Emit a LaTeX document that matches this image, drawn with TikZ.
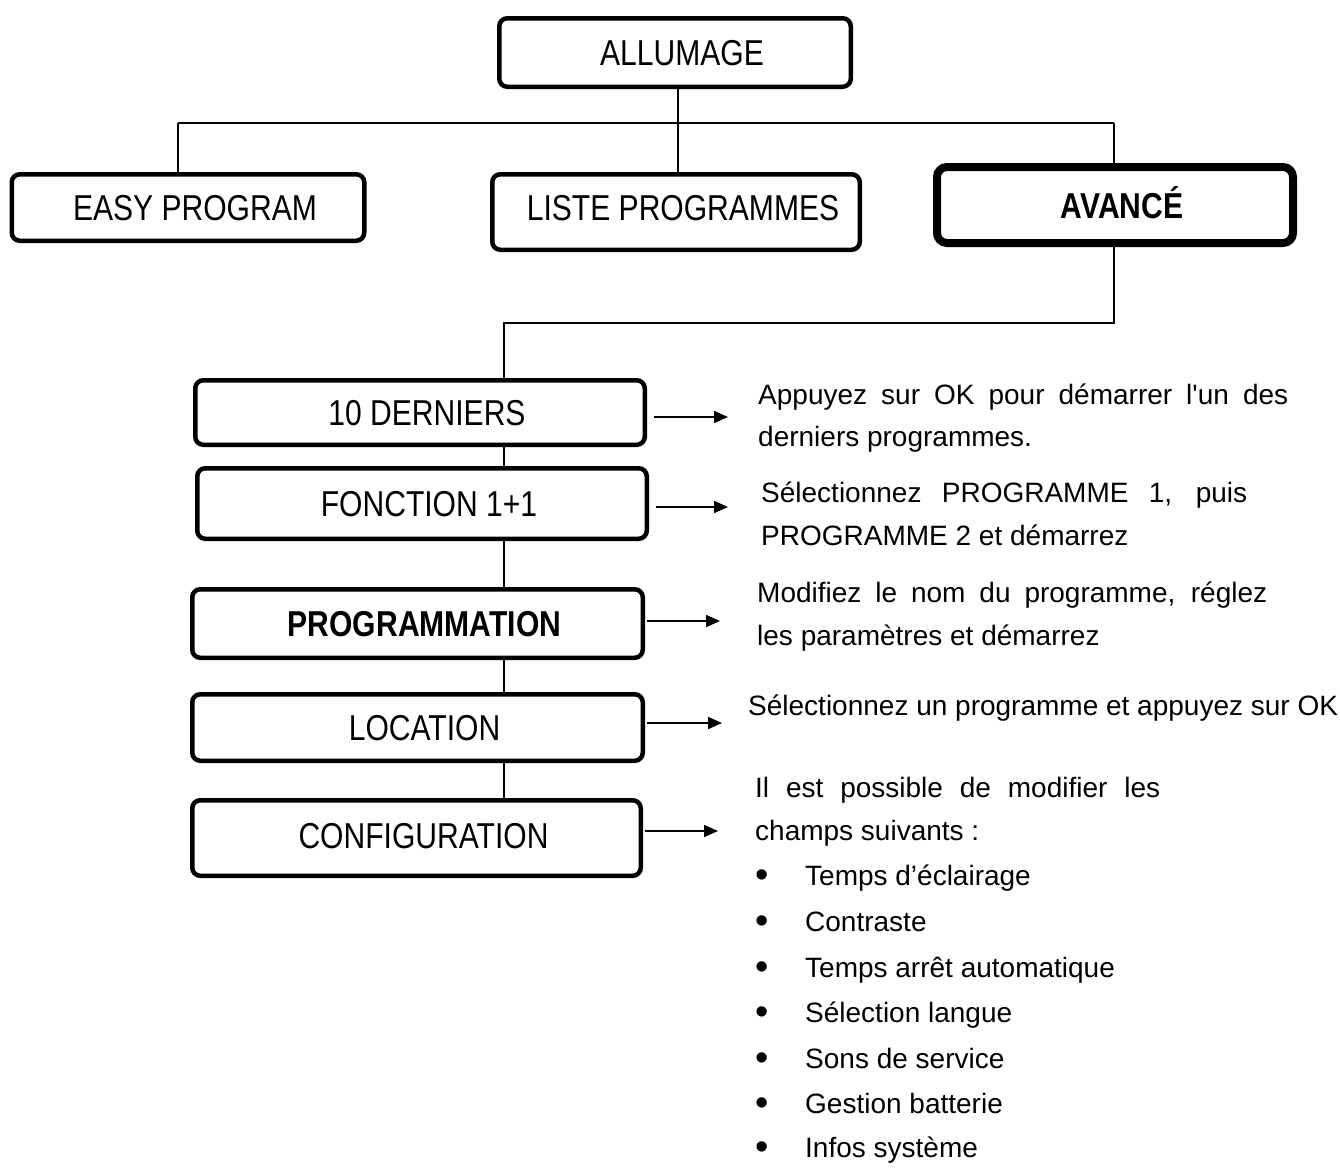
\documentclass[tikz,border=0pt]{standalone}
\usepackage{fontspec}
\setmainfont{Liberation Sans}
\newfontfamily\boxfont[FakeStretch=0.835]{Liberation Sans}
\newfontfamily\bodyfont[Ligatures=TeXOff]{Liberation Sans}
\usetikzlibrary{arrows.meta}
\newcommand{\bul}{\makebox[50pt][l]{\raisebox{-2.5pt}{\fontsize{38}{38}\selectfont•}}}
\begin{document}
\begin{tikzpicture}[x=1pt,y=-1pt,
  box/.style={draw=black, line width=4.5pt, rounded corners=8pt, inner sep=0pt,
    text height=26pt, text depth=0pt, align=center,
    execute at begin node={\hspace*{14pt}},
    font=\boxfont\fontsize{36}{40}\selectfont},
  boldbox/.style={box, font=\boxfont\fontsize{36}{40}\selectfont\bfseries},
  link/.style={draw=black, line width=1.4pt},
  arr/.style={draw=black, line width=1.6pt, -{Triangle[length=14pt,width=12pt]}},
  desc/.style={anchor=base west, inner sep=0pt, font=\bodyfont\fontsize{28}{34}\selectfont}]
\useasboundingbox (0,0) rectangle (1340,1167);

% top level
\node[box, minimum width=351.5pt, minimum height=68.5pt] (all) at (675,52.5) {ALLUMAGE};
\node[box, minimum width=352.5pt, minimum height=66.5pt] (easy) at (188,207.5) {EASY PROGRAM};
\node[box, minimum width=367.5pt, minimum height=75.5pt, text depth=10pt] (liste) at (676,212) {LISTE PROGRAMMES};
\node[boldbox, line width=8pt, rounded corners=10pt, minimum width=356pt, minimum height=76pt] (avance) at (1115,205) {AVANCÉ};

% second level
\node[box, minimum width=449.5pt, minimum height=64.5pt] (b1) at (420,412.5) {10 DERNIERS};
\node[box, minimum width=449.5pt, minimum height=70.5pt] (b2) at (422,503.5) {FONCTION 1+1};
\node[boldbox, minimum width=450.5pt, minimum height=68.5pt] (b3) at (417.5,623.5) {PROGRAMMATION};
\node[box, minimum width=450.5pt, minimum height=66.5pt] (b4) at (417.5,727.5) {LOCATION};
\node[box, minimum width=448.5pt, minimum height=75.5pt, text depth=6pt] (b5) at (416.5,838) {CONFIGURATION};

% connectors top
\coordinate (j0) at (678,123);
\coordinate (jl) at (178,123);
\coordinate (jr) at (1114,123);
\draw[link] (jl) -- (jr);
\draw[link] (j0 |- all.south) -- (j0 |- liste.north);
\draw[link] (jl) -- (jl |- easy.north);
\draw[link] (jr) -- (jr |- avance.north);

% connector to second level
\coordinate (k1) at (1114,323);
\coordinate (k2) at (504,323);
\draw[link] (k1 |- avance.south) -- (k1) -- (k2) -- (k2 |- b1.north);
\draw[link] (k2 |- b1.south) -- (k2 |- b2.north);
\draw[link] (k2 |- b2.south) -- (k2 |- b3.north);
\draw[link] (k2 |- b3.south) -- (k2 |- b4.north);
\draw[link] (k2 |- b4.south) -- (k2 |- b5.north);

% arrows
\coordinate (t1) at (728,417);
\coordinate (t2) at (728,507);
\coordinate (t3) at (720,621);
\coordinate (t4) at (722,723);
\coordinate (t5) at (718,831);
\draw[arr, shorten <=7pt] (b1.east |- t1) -- (t1);
\draw[arr, shorten <=7pt] (b2.east |- t2) -- (t2);
\draw[arr, shorten <=2pt] (b3.east |- t3) -- (t3);
\draw[arr, shorten <=2pt] (b4.east |- t4) -- (t4);
\draw[arr, shorten <=2pt] (b5.east |- t5) -- (t5);

% descriptions
\node[desc] (d1a) at (758,404) {\makebox[530pt][s]{Appuyez sur OK pour démarrer l'un des}};
\node[desc] (d1b) at (758,446) {derniers programmes.};
\node[desc] (d2a) at (761,502) {\makebox[486pt][s]{Sélectionnez PROGRAMME 1, puis}};
\node[desc] (d2b) at (761,545) {PROGRAMME 2 et démarrez};
\node[desc] (d3a) at (757,602) {\makebox[510pt][s]{Modifiez le nom du programme, réglez}};
\node[desc] (d3b) at (757,645) {les paramètres et démarrez};
\node[desc] (d4) at (748,715) {Sélectionnez un programme et appuyez sur OK};
\node[desc] (d5a) at (755,797) {\makebox[405pt][s]{Il est possible de modifier les}};
\node[desc] (d5b) at (755,840) {champs suivants :};
\node[desc] (e1) at (755,885) {\bul Temps d’éclairage};
\node[desc] (e2) at (755,931) {\bul Contraste};
\node[desc] (e3) at (755,977) {\bul Temps arrêt automatique};
\node[desc] (e4) at (755,1022) {\bul Sélection langue};
\node[desc] (e5) at (755,1068) {\bul Sons de service};
\node[desc] (e6) at (755,1113) {\bul Gestion batterie};
\node[desc] (e7) at (755,1157) {\bul Infos système};
\end{tikzpicture}
\end{document}
